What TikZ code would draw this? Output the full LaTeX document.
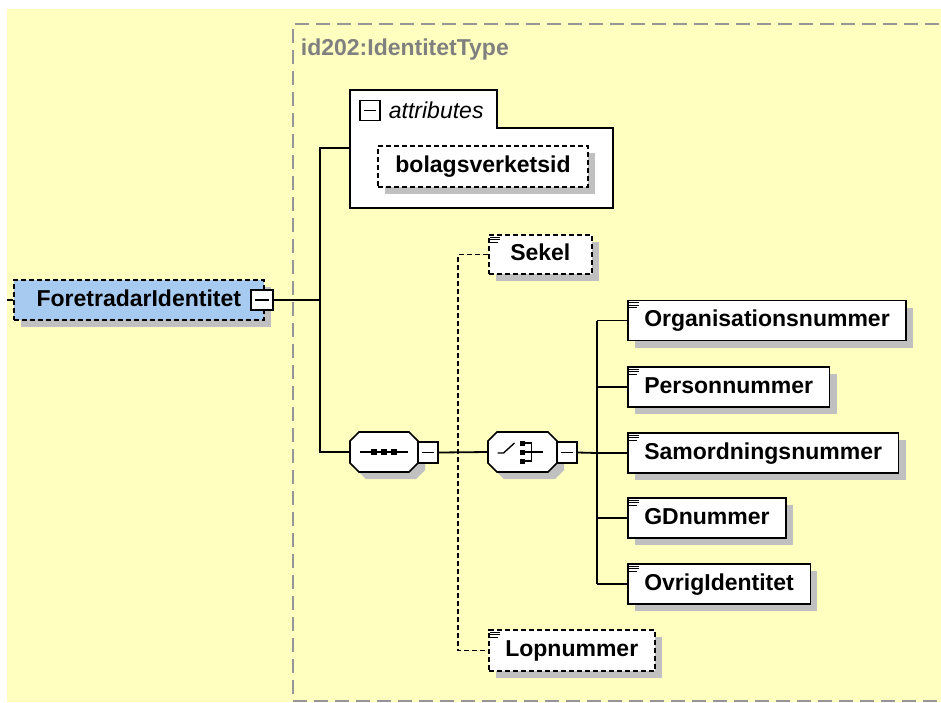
\documentclass[tikz,border=0pt]{standalone}
\usepackage{fontspec}
\setmainfont{Liberation Sans}
\usetikzlibrary{shadows, positioning, calc}
\definecolor{xsdyellow}{RGB}{255,255,192}
\definecolor{xsdblue}{RGB}{166,202,240}
\definecolor{xsdshadow}{RGB}{192,192,192}
\definecolor{xsdgray}{RGB}{150,150,150}
\definecolor{xsdtext}{RGB}{128,128,128}

\begin{document}
\begin{tikzpicture}[x=1pt, y=-1pt, line width=1.8pt,
  shd/.style={drop shadow={shadow xshift=7pt, shadow yshift=-7pt, fill=xsdshadow, opacity=1}},
  ebox/.style={draw, fill=white, shd, line width=1.6pt, minimum height=40pt, inner xsep=16.5pt, inner ysep=0pt, text height=17pt, text depth=5pt, anchor=west, font=\bfseries\fontsize{23}{27}\selectfont},
  obox/.style={ebox, dash pattern=on 5pt off 3pt},
  rbox/.style={obox, fill=xsdblue},
  mbox/.style={draw, fill=white, line width=1.4pt, minimum width=20pt, minimum height=20pt, inner sep=0pt, path picture={\draw[line width=1.4pt] ([xshift=4pt]path picture bounding box.west) -- ([xshift=-4pt]path picture bounding box.east);}},
  cbox/.style={minimum width=68pt, minimum height=40pt, inner sep=0pt, outer sep=0pt}
]
  \useasboundingbox (0,0) rectangle (941,702);
  \fill[xsdyellow] (7,9) rectangle (941,702);
  \draw[xsdgray, line width=2pt, dash pattern=on 14pt off 7pt] (960,24) -- (293,24) -- (293,701) -- (960,701);
  \node[font=\bfseries\fontsize{23}{27}\selectfont, text=xsdtext, anchor=west, inner sep=0pt] (typelbl) at (300,50) {id202:IdentitetType};

  \node[rbox, minimum width=250pt] (root) at (13,300) {ForetradarIdentitet};
  \node[mbox, minimum width=22pt] (rootm) at (262,300) {};

  \draw[line width=1.6pt, fill=white] (350,90) -- (497,90) -- (497,128) -- (613,128) -- (613,208) -- (350,208) -- cycle;
  \node[mbox] (attrm) at (370,110.5) {};
  \node[anchor=west, font=\itshape\fontsize{23}{27}\selectfont, inner sep=0pt] (attrlbl) at (388,110) {attributes};
  \node[obox, minimum width=210pt, minimum height=41pt, anchor=center] (bolag) at (483,166.5) {bolagsverketsid};
  \coordinate (attrin) at (350,148);

  \node[cbox] (seq) at (384,452) {};
  \node[cbox, minimum width=69pt] (cho) at (522.5,452) {};
  \foreach \n in {seq, cho}
    \draw[line width=1.6pt, fill=white, shd] ([xshift=9pt]\n.north west) -- ([xshift=-9pt]\n.north east)
      -- ([yshift=-9pt]\n.north east) -- ([yshift=9pt]\n.south east) -- ([xshift=-9pt]\n.south east)
      -- ([xshift=9pt]\n.south west) -- ([yshift=9pt]\n.south west) -- ([yshift=-9pt]\n.north west) -- cycle;
  \node[mbox, minimum height=21pt] (seqm) at (428,452.5) {};
  \node[mbox, minimum height=21pt] (chom) at (567,452.5) {};

  \draw[line width=1.4pt] ($(seq.center)+(-24,0)$) -- ($(seq.center)+(24,0)$);
  \foreach \dx in {-10,0,10}
    \fill ($(seq.center)+(\dx-3,-3)$) rectangle +(6,6);
  \draw[line width=1.4pt] ($(cho.center)+(-25,1)$) -- ($(cho.center)+(-19,1)$) -- ($(cho.center)+(-8,-9)$);
  \draw[line width=1.4pt] ($(cho.center)+(0,-9)$) -- ($(cho.center)+(9,-9)$) -- ($(cho.center)+(9,9)$) -- ($(cho.center)+(0,9)$)
    ($(cho.center)+(0,0)$) -- ($(cho.center)+(20,0)$);
  \foreach \dy in {-9,0,9}
    \fill ($(cho.center)+(-2.5,\dy-2.5)$) rectangle +(5,5);

  \node[obox, minimum width=103pt, minimum height=39pt] (sekel) at (488,254.5) {Sekel};
  \node[ebox] (org) at (627,320.5) {Organisationsnummer};
  \node[ebox] (pers) at (627,387) {Personnummer};
  \node[ebox] (samord) at (627,453) {Samordningsnummer};
  \node[ebox] (gd) at (627,518) {GDnummer};
  \node[ebox] (ovrig) at (627,584) {OvrigIdentitet};
  \node[obox, minimum height=41pt] (lop) at (488,650.5) {Lopnummer};
  \foreach \n in {sekel, org, pers, samord, gd, ovrig, lop}
    \draw[line width=1pt] ([shift={(2,3)}]\n.north west) -- +(10,0)
      ([shift={(2,5.5)}]\n.north west) -- +(10,0)
      ([shift={(2,8)}]\n.north west) -- +(8,0);

  \coordinate (rootin) at (7,300);
  \coordinate (bus1) at (320,300);
  \coordinate (bus2) at (458,453);
  \coordinate (bus3) at (597,453);
  \draw (rootin) -- (root.west);
  \draw (rootm.east) -- (bus1);
  \draw (attrin) -| (bus1 |- seq.west) -- (seq.west);
  \draw (seqm.east) -- (cho.west);
  \draw[dash pattern=on 5pt off 3pt] (sekel.west) -| (bus2) |- (lop.west);
  \draw (chom.east) -- (bus3);
  \draw (bus3 |- org.west) -- (bus3 |- ovrig.west);
  \foreach \n in {org, pers, samord, gd, ovrig}
    \draw (bus3 |- \n.west) -- (\n.west);
\end{tikzpicture}
\end{document}
